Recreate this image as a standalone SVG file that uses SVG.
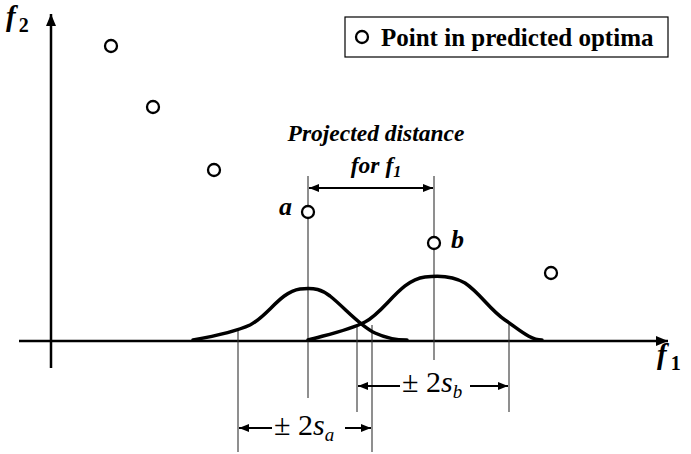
<svg xmlns="http://www.w3.org/2000/svg" width="691" height="454" viewBox="0 0 691 454">
<style>
.ax{stroke:#000;stroke-width:2.5;fill:none}
.thin{stroke:#333;stroke-width:1.1;fill:none}
.curve{stroke:#000;stroke-width:3.5;fill:none;stroke-linejoin:round;stroke-linecap:round}
.arr{stroke:#000;stroke-width:2;fill:none}
.pt{fill:#fff;stroke:#000;stroke-width:2.3}
text{font-family:'Liberation Serif','Times New Roman',Times,serif;fill:#000}
.bi{font-weight:bold;font-style:italic}
.b{font-weight:bold}
</style>
<defs>
<marker id="ah" viewBox="0 0 10 8" refX="10" refY="4" markerWidth="10" markerHeight="8" markerUnits="userSpaceOnUse" orient="auto-start-reverse">
<path d="M0,0 L10,4 L0,8 Z" fill="#000"/>
</marker>
<marker id="axh" viewBox="0 0 12 10" refX="12" refY="5" markerWidth="12" markerHeight="10" markerUnits="userSpaceOnUse" orient="auto">
<path d="M0,0 L12,5 L0,10 Z" fill="#000"/>
</marker>
</defs>
<rect width="691" height="454" fill="#fff"/>
<g id="axes">
<line class="ax" x1="51" y1="368" x2="51" y2="14" marker-end="url(#axh)"/>
<line class="ax" x1="19" y1="341" x2="668" y2="341" marker-end="url(#axh)"/>
<text class="bi" x="6" y="26" font-size="29">f<tspan class="b" font-style="normal" font-size="20" dx="3" dy="6">2</tspan></text>
<text class="bi" x="657" y="364" font-size="29">f<tspan class="b" font-style="normal" font-size="20" dx="4" dy="6">1</tspan></text>
</g>
<g id="legend">
<rect x="345" y="17" width="323" height="40" fill="#fff" stroke="#000" stroke-width="1.2"/>
<circle class="pt" cx="362" cy="37" r="6"/>
<text class="b" x="381" y="46" font-size="25">Point in predicted optima</text>
</g>
<g id="points">
<circle class="pt" cx="111" cy="46" r="6"/>
<circle class="pt" cx="153" cy="107" r="6"/>
<circle class="pt" cx="214" cy="170" r="6"/>
<circle class="pt" cx="551" cy="273" r="6"/>
</g>
<g id="connectors">
<line class="thin" x1="308" y1="176" x2="308" y2="398"/>
<line class="thin" x1="434" y1="176" x2="434" y2="360"/>
<line class="thin" x1="238" y1="329" x2="238" y2="452"/>
<line class="thin" x1="357" y1="325" x2="357" y2="412"/>
<line class="thin" x1="372" y1="325" x2="372" y2="452"/>
<line class="thin" x1="509" y1="322" x2="509" y2="412"/>
<line class="arr" x1="309" y1="188" x2="433" y2="188" marker-start="url(#ah)" marker-end="url(#ah)"/>
<line class="arr" x1="400" y1="386" x2="358" y2="386" marker-end="url(#ah)"/>
<line class="arr" x1="470" y1="386" x2="508" y2="386" marker-end="url(#ah)"/>
<line class="arr" x1="272" y1="428" x2="239" y2="428" marker-end="url(#ah)"/>
<line class="arr" x1="345" y1="428" x2="371" y2="428" marker-end="url(#ah)"/>
</g>
<g id="curve-a">
<path class="curve" d="M193,340 C215,336 235,332 250,325 C268,316 280,292 300,289 C315,287 322,290 330,296 C345,308 360,326 375,333 C388,339 398,340 407,340"/>
</g>
<g id="curve-b">
<path class="curve" d="M308,340 C330,334 350,330 365,322 C385,312 400,280 425,277 C440,275 455,277 465,283 C480,293 490,310 505,320 C520,330 530,340 542,340"/>
</g>
<g id="point-a">
<circle class="pt" cx="308" cy="212" r="6"/>
<text class="bi" x="279" y="215" font-size="26">a</text>
</g>
<g id="point-b">
<circle class="pt" cx="434" cy="243" r="6"/>
<text class="bi" x="451" y="248" font-size="26">b</text>
</g>
<g id="label-proj">
<text class="bi" x="376" y="141" font-size="23.5" text-anchor="middle">Projected distance</text>
<text class="bi" x="376" y="173" font-size="23.5" text-anchor="middle">for f<tspan font-size="16" dy="4">1</tspan></text>
</g>
<g id="label-sb">
<text x="402" y="392" font-size="30">± 2<tspan font-style="italic">s</tspan><tspan font-style="italic" font-size="19" dy="6">b</tspan></text>
</g>
<g id="label-sa">
<text x="274" y="435" font-size="30">± 2<tspan font-style="italic">s</tspan><tspan font-style="italic" font-size="19" dy="6">a</tspan></text>
</g>
</svg>
